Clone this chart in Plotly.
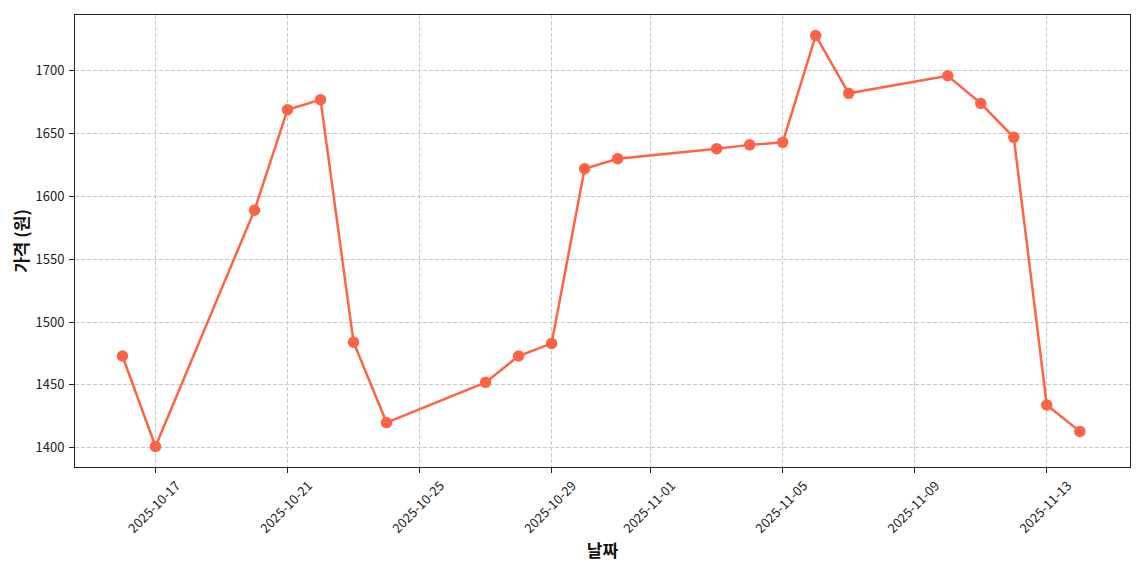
import plotly.graph_objects as go

dates = ["2025-10-16", "2025-10-17", "2025-10-20", "2025-10-21", "2025-10-22", "2025-10-23",
         "2025-10-24", "2025-10-27", "2025-10-28", "2025-10-29", "2025-10-30", "2025-10-31",
         "2025-11-03", "2025-11-04", "2025-11-05", "2025-11-06", "2025-11-07", "2025-11-10",
         "2025-11-11", "2025-11-12", "2025-11-13", "2025-11-14"]
prices = [1473, 1401, 1589, 1669, 1677, 1484, 1420, 1452, 1473, 1483, 1622, 1630,
          1638, 1641, 1643, 1728, 1682, 1696, 1674, 1647, 1434, 1413]
tick_dates = ["2025-10-17", "2025-10-21", "2025-10-25", "2025-10-29",
              "2025-11-01", "2025-11-05", "2025-11-09", "2025-11-13"]
y_ticks = [1400, 1450, 1500, 1550, 1600, 1650, 1700]

FONT = "Noto Sans CJK KR"
fig = go.Figure()
fig.add_trace(go.Scatter(
    x=dates, y=prices, mode="lines+markers",
    line=dict(color="#FF6347", width=2.5),
    marker=dict(color="#FF6347", size=11.5),
    showlegend=False,
))
fig.update_layout(
    width=1140, height=570,
    margin=dict(l=67, r=18, t=7, b=111, autoexpand=False),
    paper_bgcolor="white", plot_bgcolor="white",
    font=dict(family=FONT, size=13, color="#222"),
)
fig.update_xaxes(
    type="date", range=["2025-10-14 13:30", "2025-11-15 12:30"],
    tickvals=tick_dates, ticktext=tick_dates, tickangle=-45,
    ticks="outside", ticklen=5, tickcolor="#222",
    showline=True, linecolor="#222", linewidth=1, mirror=True,
    showgrid=True, gridcolor="#c8c8c8", griddash="4px,2px", gridwidth=1,
    zeroline=False, automargin=False,
    ticklabelshift=21,
    title=dict(text="<b>날짜</b>", font=dict(family=FONT, size=17, color="#111"), standoff=2),
)
fig.update_yaxes(
    range=[1384.65, 1744.35], tickvals=y_ticks,
    ticks="outside", ticklen=5, tickcolor="#222", ticklabelstandoff=2,
    showline=True, linecolor="#222", linewidth=1, mirror=True,
    showgrid=True, gridcolor="#c8c8c8", griddash="4px,2px", gridwidth=1,
    zeroline=False, automargin=False,
    title=dict(text="<b>가격 (원)</b>", font=dict(family=FONT, size=17, color="#111"), standoff=9),
)
fig.write_html("out.html")
